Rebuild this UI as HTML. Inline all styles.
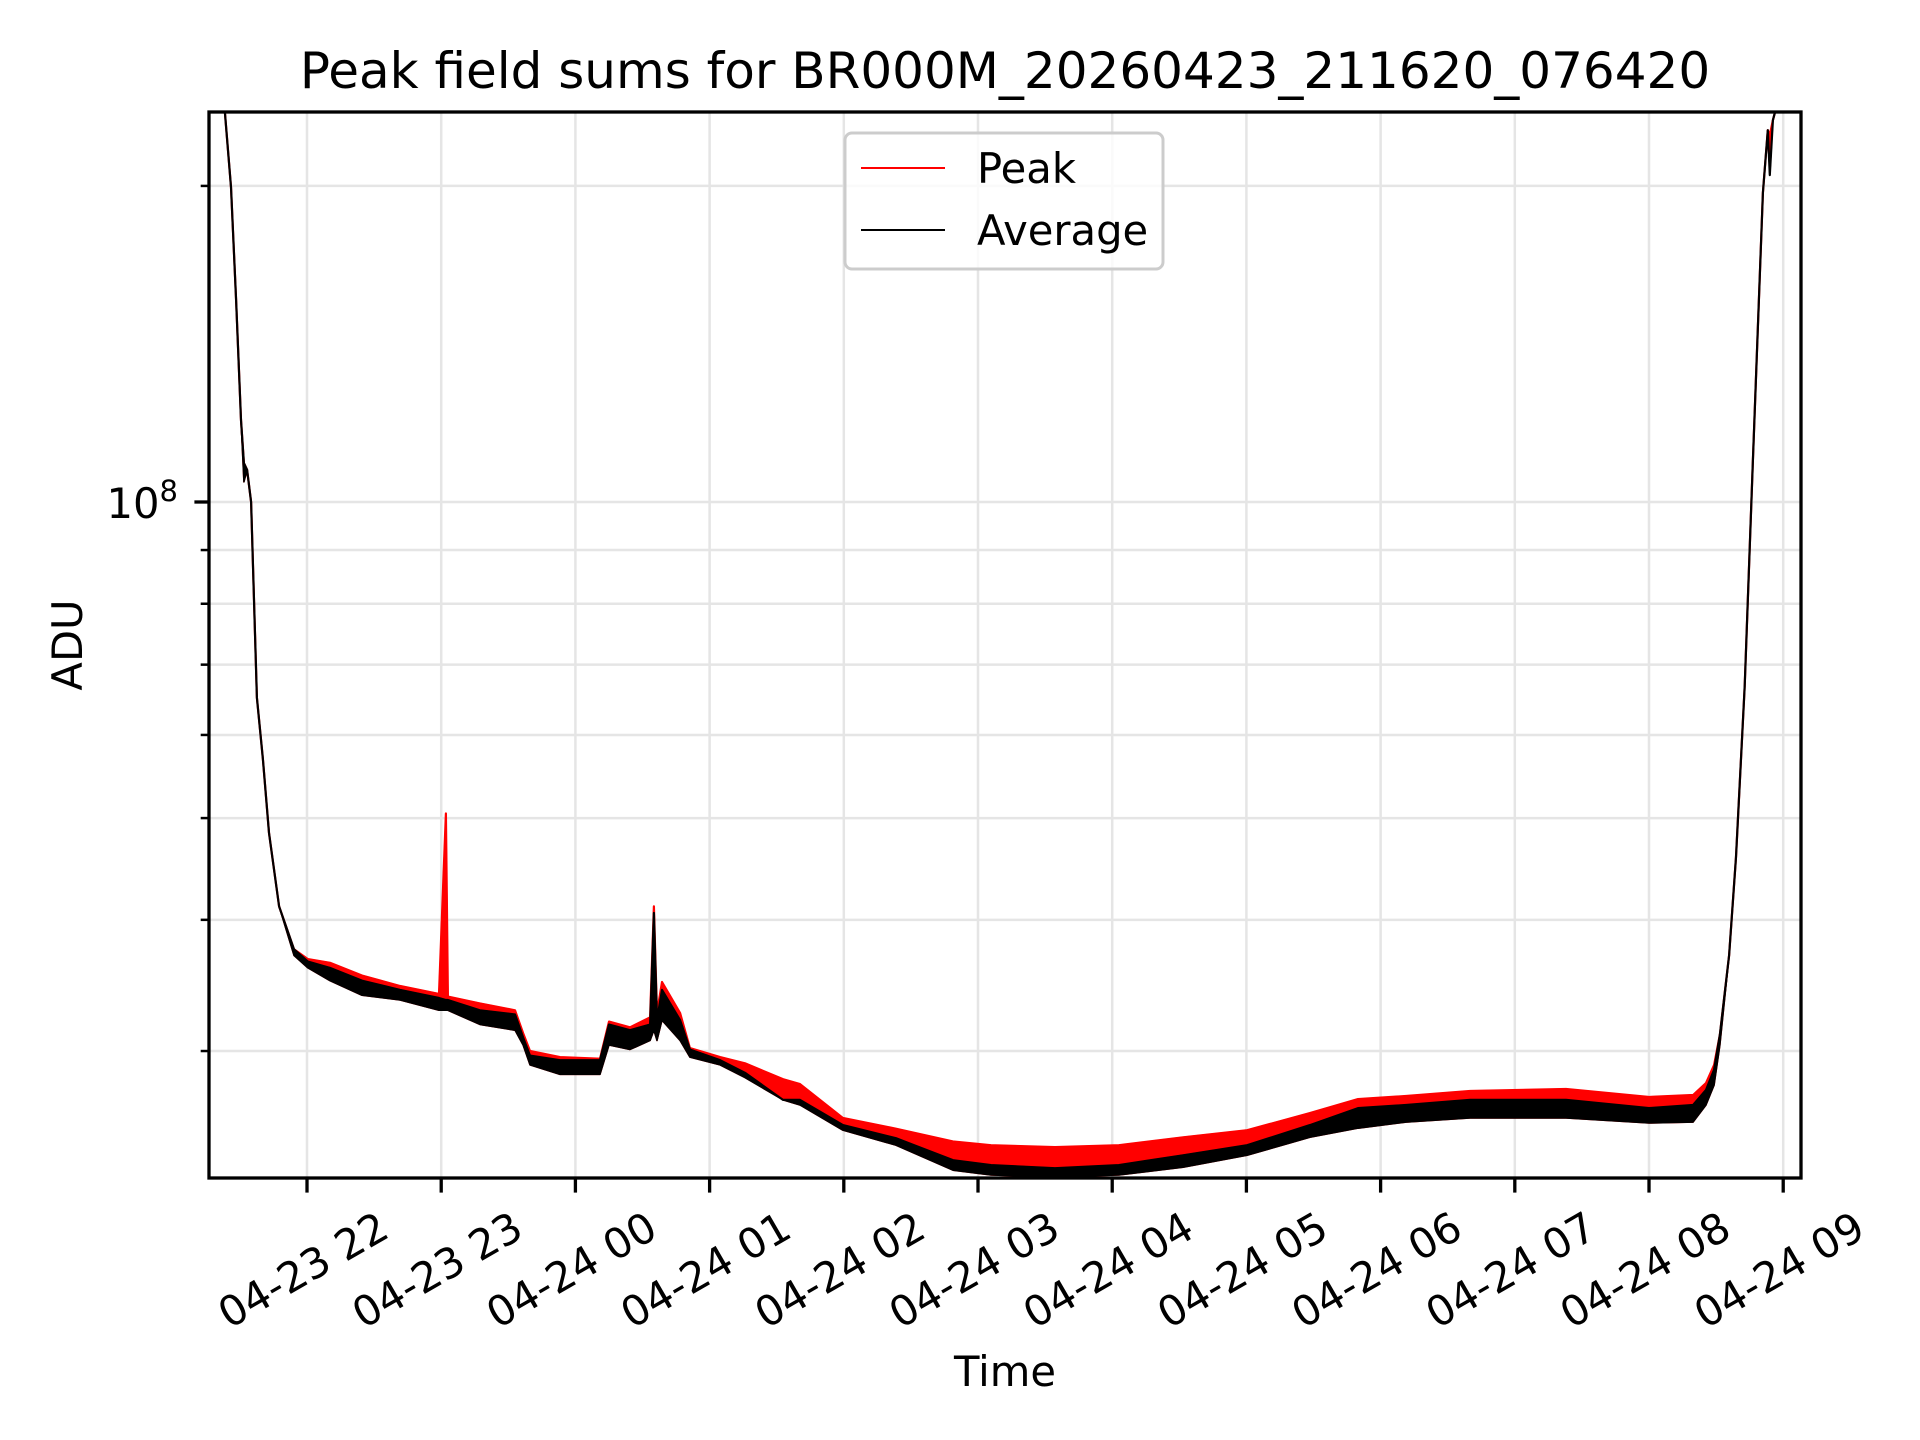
<!DOCTYPE html>
<html>
<head>
<meta charset="utf-8">
<style>
html,body{margin:0;padding:0;background:#fff;}
svg{display:block;font-family:"DejaVu Sans","Liberation Sans",sans-serif;}
</style>
</head>
<body>
<svg id="chart" width="1920" height="1440" viewBox="0 0 1920 1440" xmlns="http://www.w3.org/2000/svg">
  <rect x="0" y="0" width="1920" height="1440" fill="#fff"/>
  <g id="grid"></g>
  <defs><clipPath id="plotclip"><rect x="209" y="112" width="1592" height="1066"/></clipPath></defs>
  <g id="series" clip-path="url(#plotclip)"></g>
  <rect x="209" y="112" width="1592" height="1066" fill="none" stroke="#000" stroke-width="3.3"/>
  <g id="xticks"></g>
  <g id="yticks"></g>
  <text x="1005" y="88" font-size="50" text-anchor="middle">Peak field sums for BR000M_20260423_211620_076420</text>
  <text x="1005" y="1386" font-size="41.7" text-anchor="middle">Time</text>
  <text transform="translate(82,645) rotate(-90)" font-size="41.7" text-anchor="middle">ADU</text>
  <g>
    <rect x="845" y="133" width="318" height="136" rx="7" fill="#fff" fill-opacity="0.8" stroke="#ccc" stroke-width="3"/>
    <line x1="861" y1="168" x2="945" y2="168" stroke="#f00" stroke-width="2"/>
    <text x="977" y="183" font-size="41.7">Peak</text>
    <line x1="861" y1="230" x2="945" y2="230" stroke="#000" stroke-width="2"/>
    <text x="977" y="245" font-size="41.7">Average</text>
  </g>
</svg>
<script>
// time: minutes since 2026-04-23 21:00
const times = [23.3,26.0,28.3,30.5,31.8,33.2,35.0,37.6,40.3,43.0,47.5,54.2,60.4,70.3,84.6,101.6,119.0,122.1,123.0,137.3,153.0,156.6,159.7,173.1,191.0,195.0,204.4,213.4,215.1,216.5,218.7,226.8,231.2,244.7,255.8,272.8,280.4,299.6,323.3,348.8,365.8,394.4,423.0,451.7,480.3,508.4,529.9,551.4,580.0,622.9,660.0,679.7,685.5,689.1,691.7,695.8,698.9,702.8,706.4,710.9,713.1,714.0,715.4,717.2,719.4];
// values in millions of ADU
const peakValues = [235,199.5,155.7,119.7,108.9,107.3,100,65.1,56.9,48.4,41.2,37.5,36.7,36.4,35.4,34.6,34.0,50.5,33.8,33.3,32.8,31.2,30.0,29.6,29.5,32.0,31.6,32.3,41.2,32.6,34.9,32.6,30.2,29.6,29.2,28.2,27.9,25.9,25.3,24.6,24.4,24.3,24.4,24.83,25.22,26.18,27.0,27.18,27.48,27.6,27.12,27.24,27.96,29.1,31.1,37.0,45.9,66.8,108.9,197,226,223.6,231,238.8,246.9];
const averageValues = [235,199.5,155.7,119.7,108.9,107.3,100,65.1,56.9,48.4,41.2,37.5,36.5,36.0,35.0,34.3,33.7,33.55,33.55,32.8,32.5,30.9,29.7,29.4,29.4,31.8,31.4,31.8,40.6,32.1,34.3,32.1,30.1,29.4,28.6,26.95,26.95,25.5,24.78,23.61,23.36,23.2,23.36,23.87,24.4,25.5,26.47,26.65,26.95,26.95,26.47,26.65,27.54,28.8,31.1,37.0,45.9,66.8,108.9,197,226,204.8,231,238.8,246.9];
const averageMinValues = [235,199.5,155.7,119.7,104.5,107.3,100,65.1,56.9,48.4,41.2,37.0,36.0,35.0,33.9,33.55,32.8,32.8,32.8,31.8,31.4,30.4,29.1,28.5,28.5,30.4,30.1,30.7,31.4,30.7,32.1,30.7,29.6,29.1,28.3,26.95,26.65,25.22,24.4,23.1,22.86,22.76,22.86,23.25,23.87,24.83,25.33,25.67,25.9,25.9,25.62,25.67,26.65,27.84,30.4,37.0,45.9,66.8,108.9,197,226,204.8,231,238.8,246.9];
const xTickMinutes = [60,120,180,240,300,360,420,480,540,600,660,720];
const xTickLabels = ["04-23 22","04-23 23","04-24 00","04-24 01","04-24 02","04-24 03","04-24 04","04-24 05","04-24 06","04-24 07","04-24 08","04-24 09"];
const yMinorTicks = [30,40,50,60,70,80,90,200];
const yMajorTicks = [100];

const NS = "http://www.w3.org/2000/svg";
const L=209,R=1801,T=112,B=1178;
const m0 = 16.18, pxPerMin = 134.2/60;
function xs(m){ return L + (m - m0)*pxPerMin; }
function ys(v){ return 502 - Math.log10(v/100)*1050; }
function mk(tag, attrs, parent){
  const e = document.createElementNS(NS, tag);
  for (const k in attrs) e.setAttribute(k, attrs[k]);
  parent.appendChild(e); return e;
}
const grid = document.getElementById('grid');
const xt = document.getElementById('xticks');
const yt = document.getElementById('yticks');
const series = document.getElementById('series');

xTickMinutes.forEach((m,i)=>{
  const x = xs(m);
  const g = mk('line',{x1:x,y1:T,x2:x,y2:B,stroke:'#e5e5e5','stroke-width':2.5},grid);
  
  
  const t = mk('line',{x1:x,y1:B,x2:x,y2:B+14.6,stroke:'#000','stroke-width':3.3},xt);
  
  
  const lbl = mk('text',{x:0,y:0,'font-size':41.7,'text-anchor':'middle','dominant-baseline':'central',transform:`translate(${x-4},1270) rotate(-30)`},xt);
  lbl.textContent = xTickLabels[i];
  
  
});
yMinorTicks.concat(yMajorTicks).forEach(v=>{
  const y = ys(v);
  const g = mk('line',{x1:L,y1:y,x2:R,y2:y,stroke:'#e5e5e5','stroke-width':2.5},grid);
  
  
  const major = yMajorTicks.includes(v);
  const t = mk('line',{x1:L-(major?14.6:8.3),y1:y,x2:L,y2:y,stroke:'#000','stroke-width':major?3.3:2.5},yt);
  
  
  if(major){
    const lbl = mk('text',{x:178,y:y+16,'font-size':41.7,'text-anchor':'end'},yt);
    lbl.innerHTML = '10<tspan font-size="29" dy="-17">8</tspan>';
    
    
  }
});

function linePts(vals){ return times.map((m,i)=>xs(m).toFixed(1)+','+ys(vals[i]).toFixed(1)); }
function bandPts(top,bot){ return linePts(top).concat(linePts(bot).reverse()).join(' '); }

const redBand = mk('polygon',{points:bandPts(peakValues,averageMinValues),fill:'#f00',stroke:'#f00','stroke-width':1.5,'stroke-linejoin':'round'},series);


const redLine = mk('polyline',{points:linePts(peakValues).join(' '),fill:'none',stroke:'#f00','stroke-width':2.2,'stroke-linejoin':'round'},series);


const blackBand = mk('polygon',{points:bandPts(averageValues,averageMinValues),fill:'#000',stroke:'#000','stroke-width':1.5,'stroke-linejoin':'round'},series);


const blackLine = mk('polyline',{points:linePts(averageValues).join(' '),fill:'none',stroke:'#000','stroke-width':2.2,'stroke-linejoin':'round'},series);


</script>
</body>
</html>
